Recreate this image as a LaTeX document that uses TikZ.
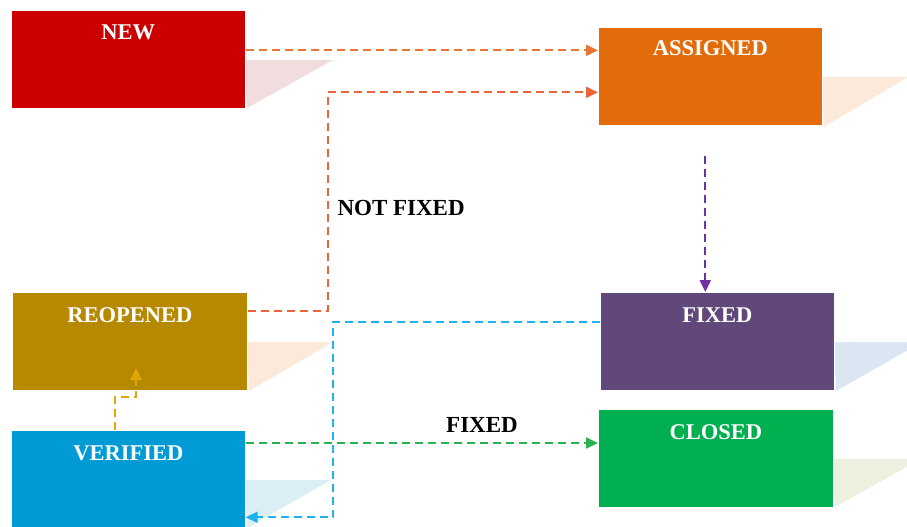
\documentclass[tikz,border=0pt]{standalone}
\usepackage{fontspec}
\setmainfont{Liberation Serif}
\usetikzlibrary{arrows.meta,calc}

\definecolor{cNew}{RGB}{204,0,0}
\definecolor{cAssigned}{RGB}{226,107,10}
\definecolor{cReopened}{RGB}{183,137,0}
\definecolor{cVerified}{RGB}{0,155,212}
\definecolor{cFixed}{RGB}{96,73,122}
\definecolor{cClosed}{RGB}{0,176,80}
\definecolor{shPink}{RGB}{241,221,221}
\definecolor{shPeach}{RGB}{252,233,218}
\definecolor{shBlue}{RGB}{219,238,244}
\definecolor{shGray}{RGB}{220,230,242}
\definecolor{shGreen}{RGB}{235,241,222}
\definecolor{aOrange}{RGB}{232,118,50}
\definecolor{aRed}{RGB}{234,100,60}
\definecolor{aPurple}{RGB}{112,48,160}
\definecolor{aBlue}{RGB}{30,178,240}
\definecolor{aGold}{RGB}{222,168,10}
\definecolor{aGreen}{RGB}{40,178,80}

\tikzset{
  state/.style={rectangle, draw=white, line width=0.6pt, anchor=north west,
    minimum width=#1, minimum height=98pt, inner sep=0pt},
  state/.default=234pt,
  title/.style={anchor=base, text=white, font=\fontsize{22.5}{26}\selectfont\bfseries},
  tag/.style={text=black, font=\fontsize{23}{26}\selectfont\bfseries},
  flow/.style={line width=2pt, dash pattern=on 8pt off 5pt,
    -{Triangle[length=12pt,width=11pt]}},
}

\begin{document}
\begin{tikzpicture}[x=1pt,y=-1pt]
\useasboundingbox (0,0) rectangle (907,527);
\clip (0,0) rectangle (907,527);

% slanted shadows behind the boxes
\fill[shPink]  (245,60)  -- (333,60)  -- (247,108) -- cycle;
\fill[shPeach] (822,77)  -- (908,77)  -- (824,127) -- cycle;
\fill[shPeach] (247,342) -- (333,342) -- (249,391) -- cycle;
\fill[shBlue]  (245,480) -- (331,480) -- (247,528) -- cycle;
\fill[shGray]  (834,342) -- (922,342) -- (836,391) -- cycle;
\fill[shGreen] (833,459) -- (921,459) -- (835,507) -- cycle;

% state boxes
\node[state, fill=cNew]          (new)      at (11,10)  {};
\node[state=224pt, fill=cAssigned] (assigned) at (598,27) {};
\node[state=235pt, fill=cReopened] (reopened) at (12,292) {};
\node[state, fill=cVerified]     (verified) at (11,430) {};
\node[state, fill=cFixed]        (fixed)    at (600,292) {};
\node[state=235pt, fill=cClosed] (closed)   at (598,409) {};

% box titles
\node[title] (tnew)  at ($(new.north)+(0,30)$)      {NEW};
\node[title] (tasg)  at ($(assigned.north)+(0,29)$) {ASSIGNED};
\node[title] (treo)  at ($(reopened.north)+(0,30)$) {REOPENED};
\node[title] (tver)  at ($(verified.north)+(0,30)$) {VERIFIED};
\node[title] (tfix)  at ($(fixed.north)+(0,30)$)    {FIXED};
\node[title] (tclo)  at ($(closed.north)+(0,30)$)   {CLOSED};

% NEW -> ASSIGNED
\coordinate (s1) at ($(new.east)+(0,-9)$);
\draw[flow, aOrange] (s1) -- (s1 -| assigned.west);

% REOPENED -> ASSIGNED (not fixed)
\coordinate (s2) at ($(reopened.east)+(0,-30.5)$);
\coordinate (b2) at (328,200);
\coordinate (e2) at ($(assigned.west)+(0,16)$);
\draw[flow, aRed] (s2) -| (b2) |- (e2);
\node[tag, anchor=base west] (lnf) at (334,215) {NOT FIXED};

% ASSIGNED -> FIXED
\coordinate (s3) at ($(assigned.south)+(-5,30)$);
\draw[flow, aPurple] (s3) -- (s3 |- fixed.north);

% FIXED -> VERIFIED
\coordinate (s4) at ($(fixed.west)+(0,-19.5)$);
\coordinate (b4) at (333,420);
\coordinate (e4) at ($(verified.east)+(0,38)$);
\draw[flow, aBlue] (s4) -| (b4) |- (e4);

% VERIFIED -> REOPENED
\coordinate (s5) at ($(verified.north)+(-13,0)$);
\coordinate (b5) at (136,397);
\coordinate (e5) at (136,368);
\draw[flow, aGold] (s5) |- (b5) -- (e5);

% VERIFIED -> CLOSED (fixed)
\coordinate (s6) at ($(verified.north east)+(0,13)$);
\draw[flow, aGreen] (s6) -- (s6 -| closed.west);
\node[tag, anchor=base] (lfx) at (482,432) {FIXED};

\end{tikzpicture}
\end{document}
